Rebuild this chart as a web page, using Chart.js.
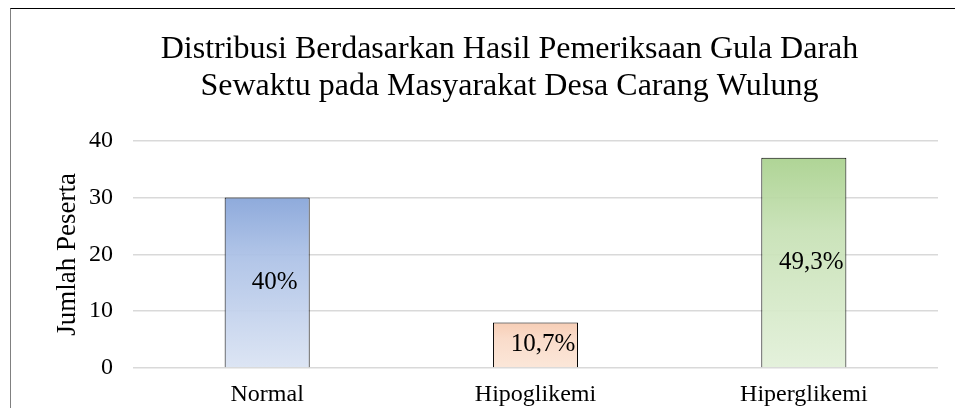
<!DOCTYPE html>
<html>
<head>
<meta charset="utf-8">
<script src="https://cdn.jsdelivr.net/npm/chart.js@4/dist/chart.umd.min.js"></script>
<style>
  html, body { margin: 0; padding: 0; background: #fff; overflow: hidden; }
  #frame {
    position: absolute; left: 10px; top: 8px;
    width: 997px; height: 400px;
    border-top: 1px solid #000; border-left: 1px solid #808080;
  }
  #frame canvas { display: block; }
</style>
</head>
<body>
<div id="frame"><canvas id="myChart" width="997" height="399"></canvas></div>
<script>
const categories = ["Normal", "Hipoglikemi", "Hiperglikemi"];
const jumlah = [30, 8, 37];
const persen = ["40%", "10,7%", "49,3%"];
const yTicks = [0, 10, 20, 30, 40];
const judul = ["Distribusi Berdasarkan Hasil Pemeriksaan Gula Darah", "Sewaktu pada Masyarakat Desa Carang Wulung"];

// top / middle / bottom colours of each bar gradient
const gradStops = [
    ["rgba(134,164,217,0.93)", "rgba(172,193,230,0.93)", "rgba(218,227,243,0.93)"],
    ["rgba(246,202,176,0.93)", "rgba(249,217,198,0.93)", "rgba(251,229,214,0.93)"],
    ["rgba(169,209,142,0.93)", "rgba(199,225,181,0.93)", "rgba(226,240,217,0.93)"]
];

const serif = "'Liberation Serif', 'Times New Roman', serif";

function barFill(ctx) {
    const chart = ctx.chart;
    const stops = gradStops[ctx.dataIndex] || gradStops[0];
    if (!chart.chartArea || ctx.type !== 'data') {
        return stops[1];
    }
    const y = chart.scales.y;
    const top = y.getPixelForValue(ctx.raw);
    const base = y.getPixelForValue(0);
    const g = chart.ctx.createLinearGradient(0, top, 0, base);
    g.addColorStop(0, stops[0]);
    g.addColorStop(0.35, stops[1]);
    g.addColorStop(1, stops[2]);
    return g;
}

const percentLabels = {
    id: 'percentLabels',
    afterDatasetsDraw(chart) {
        const ctx = chart.ctx;
        const meta = chart.getDatasetMeta(0);
        ctx.save();
        ctx.font = "25px " + serif;
        ctx.fillStyle = "#000";
        ctx.textAlign = "center";
        ctx.textBaseline = "middle";
        meta.data.forEach((bar, i) => {
            ctx.fillText(persen[i], bar.x + 7.5, (bar.y + bar.base) / 2);
        });
        ctx.restore();
    }
};

const myChart = new Chart(document.getElementById('myChart').getContext('2d'), {
    type: 'bar',
    data: {
        labels: categories,
        datasets: [{
            label: 'Jumlah Peserta',
            data: jumlah,
            backgroundColor: barFill,
            borderColor: '#000',
            borderWidth: 1,
            categoryPercentage: 0.317,
            barPercentage: 1
        }]
    },
    options: {
        responsive: false,
        animation: false,
        layout: { padding: 0 },
        plugins: {
            legend: { display: false },
            tooltip: { enabled: false },
            title: {
                display: true,
                text: judul,
                color: '#000',
                font: { family: serif, size: 32, weight: 'normal', lineHeight: 1.15 },
                padding: { top: 22, bottom: 36 }
            }
        },
        scales: {
            x: {
                grid: { display: false, drawTicks: false },
                border: { display: false },
                ticks: { color: '#000', font: { family: serif, size: 24 }, padding: 12 },
                afterFit(scale) { scale.height = 40; }
            },
            y: {
                min: 0,
                max: 40,
                afterBuildTicks(scale) { scale.ticks = yTicks.map(v => ({ value: v })); },
                grid: { color: '#d9d9d9', lineWidth: 1.5, drawTicks: false },
                border: { display: false },
                ticks: { color: '#000', font: { family: serif, size: 24 }, padding: 20 },
                title: {
                    display: true,
                    text: 'Jumlah Peserta',
                    color: '#000',
                    font: { family: serif, size: 27 },
                    padding: { top: 41, bottom: 0 }
                },
                afterFit(scale) { scale.width = 122; }
            },
            // empty right-hand spacer so the plot stops where the chart's own plot area stops
            kanan: {
                type: 'linear',
                position: 'right',
                grid: { display: false, drawTicks: false },
                border: { display: false },
                ticks: { display: false },
                afterFit(scale) { scale.width = 70; }
            }
        }
    },
    plugins: [percentLabels]
});
</script>
</body>
</html>
